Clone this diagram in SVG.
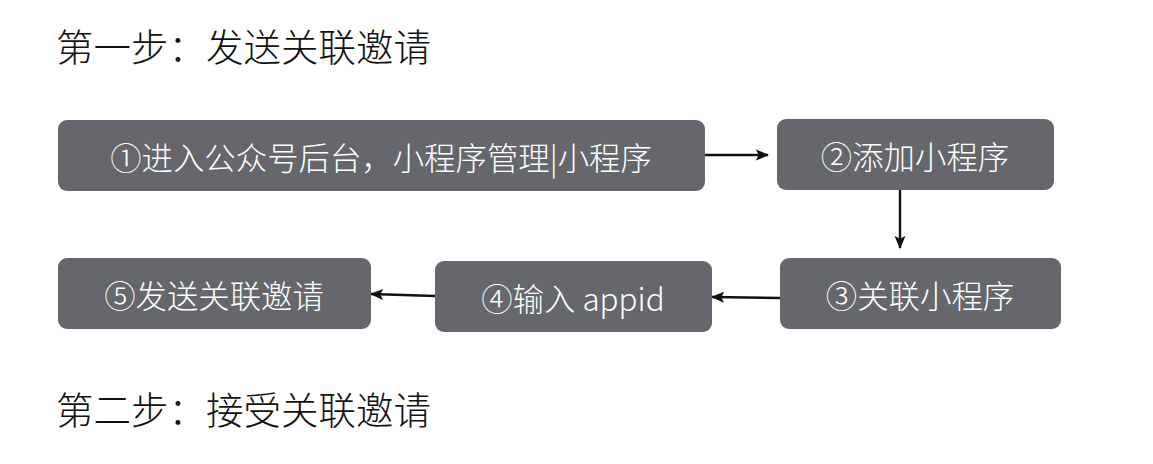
<svg xmlns="http://www.w3.org/2000/svg" width="1153" height="464" viewBox="0 0 1153 464">
  <style>
    .title { font-family: "Noto Sans CJK SC", "Noto Sans", sans-serif; font-size: 37.5px; font-weight: 300; fill: #111111; }
    .box { fill: #65676c; }
    .label { font-family: "Noto Sans CJK SC", "Noto Sans", sans-serif; font-size: 31.4px; font-weight: 300; fill: #ffffff; text-anchor: middle; dominant-baseline: central; }
    .link { stroke: #111111; stroke-width: 2.4; fill: none; marker-end: url(#arrow); }
  </style>
  <defs>
    <marker id="arrow" viewBox="0 0 12 10" refX="11" refY="5" markerWidth="5.5" markerHeight="4.6" markerUnits="strokeWidth" orient="auto">
      <path d="M0,0 L12,5 L0,10 L2.5,5 z" fill="#111111"/>
    </marker>
  </defs>
  <rect width="1153" height="464" fill="#ffffff"/>

  <text class="title" x="56" y="61">第一步：发送关联邀请</text>
  <text class="title" x="56" y="424">第二步：接受关联邀请</text>

  <g id="connectors">
    <line class="link" x1="705" y1="155" x2="768" y2="155"/>
    <line class="link" x1="900" y1="190" x2="900" y2="248"/>
    <line class="link" x1="780" y1="298" x2="712" y2="297"/>
    <line class="link" x1="435" y1="296" x2="371" y2="294"/>
  </g>

  <g id="step1">
    <rect class="box" x="58" y="120" width="647" height="71" rx="9"/>
    <text class="label" x="381" y="156">①进入公众号后台，小程序管理|小程序</text>
  </g>
  <g id="step2">
    <rect class="box" x="777" y="119" width="277" height="71" rx="9"/>
    <text class="label" x="915" y="155">②添加小程序</text>
  </g>
  <g id="step3">
    <rect class="box" x="780" y="258" width="281" height="71" rx="9"/>
    <text class="label" x="920" y="294">③关联小程序</text>
  </g>
  <g id="step4">
    <rect class="box" x="435" y="261" width="277" height="71" rx="9"/>
    <text class="label" x="573" y="297">④输入 appid</text>
  </g>
  <g id="step5">
    <rect class="box" x="58" y="258" width="313" height="71" rx="9"/>
    <text class="label" x="214" y="294">⑤发送关联邀请</text>
  </g>
</svg>
